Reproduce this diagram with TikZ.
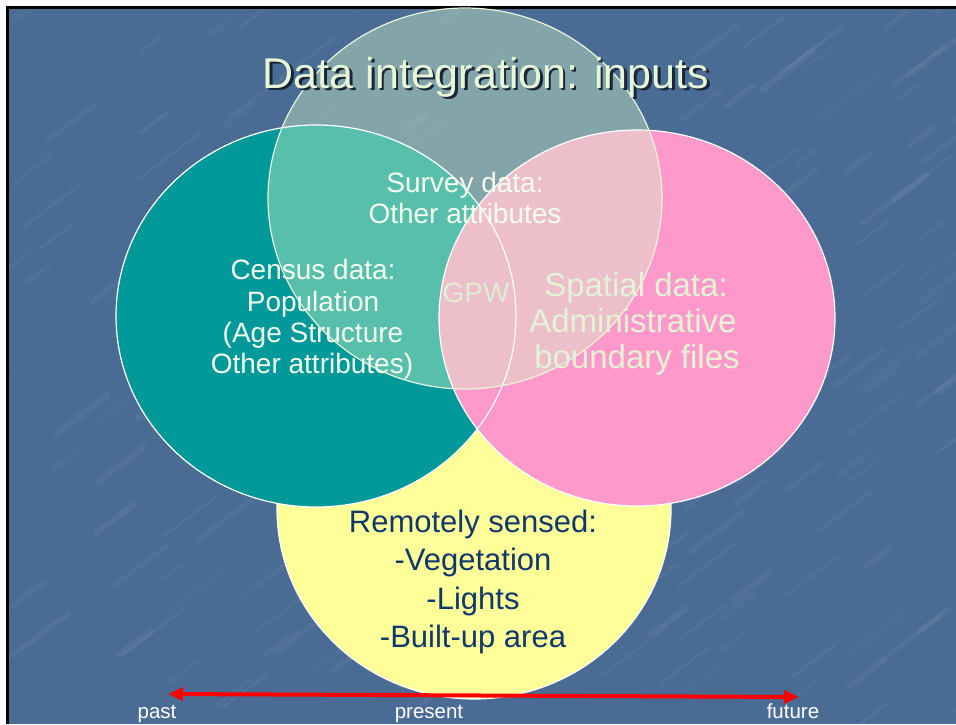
\documentclass[tikz,border=0pt]{standalone}
\usepackage{fontspec}
\setmainfont{Liberation Sans}
\usetikzlibrary{arrows.meta}
\definecolor{bgblue}{RGB}{74,108,148}
\definecolor{tealc}{RGB}{0,153,153}
\definecolor{pinkc}{RGB}{255,153,204}
\definecolor{yellowc}{RGB}{255,255,153}
\definecolor{veil}{RGB}{210,245,200}
\definecolor{titlecol}{RGB}{230,247,217}
\definecolor{shadowcol}{RGB}{26,38,56}
\definecolor{navy}{RGB}{16,56,108}
\definecolor{paletext}{RGB}{244,255,240}
\definecolor{spatialcol}{RGB}{228,243,214}
\definecolor{gpwcol}{RGB}{224,236,212}
\newcommand{\shadowtitle}[1]{\makebox[0pt][l]{\hspace*{2.5pt}\raisebox{-2.5pt}{\textcolor{shadowcol}{#1}}}\textcolor{titlecol}{#1}}
\begin{document}
\begin{tikzpicture}[x=1pt,y=-1pt,
  txt/.style={inner sep=0pt, anchor=base},
  ttl/.style={txt, font=\fontsize{43}{50}\selectfont},
  mid/.style={txt, font=\fontsize{28}{34}\selectfont},
  big/.style={txt, font=\fontsize{33}{38}\selectfont},
  rsx/.style={txt, text=navy, font=\fontsize{31}{38}\selectfont},
  lab/.style={txt, text=white, font=\fontsize{20.5}{24}\selectfont},
  rim/.style={draw=white, line width=1.2pt},
  streak/.style={draw=white, line cap=round},
  timeline/.style={draw=red, line width=4pt,
    {Triangle[length=15pt,width=13pt]}-{Triangle[length=15pt,width=13pt]}}
]
\useasboundingbox (0,0) rectangle (956,724);
\fill[white] (0,0) rectangle (956,724);
\fill[black] (6,6) rectangle (956,724);
\fill[bgblue] (9,9) rectangle (956,724);

% faint marble texture of the background
\begin{scope}
\clip (9,9) rectangle (956,724);
\pgfmathsetseed{4711}
\foreach \k in {1,...,200}{
  \pgfmathsetmacro{\sx}{rnd*960}
  \pgfmathsetmacro{\sy}{rnd*730}
  \pgfmathsetmacro{\sl}{20+rnd*60}
  \pgfmathsetmacro{\sw}{2+rnd*5}
  \pgfmathsetmacro{\so}{0.015+rnd*0.035}
  \draw[streak, line width=\sw pt, draw opacity=\so]
    (\sx,\sy) -- ++(\sl*0.8, -\sl*0.6);
}
\end{scope}

% circles
\fill[yellowc] (474,509) ellipse [x radius=197pt, y radius=190pt];
\draw[rim] (474,509) ellipse [x radius=197pt, y radius=190pt];
\fill[tealc] (316,316) ellipse [x radius=200pt, y radius=191pt];
\fill[pinkc] (637,318) ellipse [x radius=198pt, y radius=188pt];
\fill[veil, fill opacity=0.42] (465,198.5) ellipse [x radius=197pt, y radius=190.5pt];
\draw[rim] (316,316) ellipse [x radius=200pt, y radius=191pt];
\draw[rim] (637,318) ellipse [x radius=198pt, y radius=188pt];
\draw[draw=titlecol, line width=1.2pt] (465,198.5) ellipse [x radius=197pt, y radius=190.5pt];

% title
\node[ttl] (title) at (486,88) {\shadowtitle{Data integration: inputs}};

% survey
\node[mid, text=paletext] (sv1) at (465,192) {Survey data:};
\node[mid, text=paletext] (sv2) at (465,223) {Other attributes};

% census
\node[mid, text=paletext] (cs1) at (313,279) {Census data:};
\node[mid, text=paletext] (cs2) at (313,311) {Population};
\node[mid, text=paletext] (cs3) at (313,342) {(Age Structure};
\node[mid, text=paletext] (cs4) at (312,373) {Other attributes)};

% spatial
\node[big, text=spatialcol] (sp1) at (636,296) {Spatial data:};
\node[big, text=spatialcol] (sp2) at (633,332) {Administrative};
\node[big, text=spatialcol] (sp3) at (637,368) {boundary files};

% GPW
\node[mid, text=gpwcol] (gpw) at (476,302) {GPW};

% remotely sensed
\node[rsx] (rs1) at (473,532) {Remotely sensed:};
\node[rsx] (rs2) at (473,570) {-Vegetation};
\node[rsx] (rs3) at (473,609) {-Lights};
\node[rsx] (rs4) at (473,647) {-Built-up area};

% timeline
\coordinate (pastend) at (168,694);
\coordinate (futureend) at (799,697);
\draw[timeline] (pastend) -- (futureend);
\node[lab] (past) at (157,718) {past};
\node[lab] (present) at (429,718) {present};
\node[lab] (future) at (793,718) {future};
\end{tikzpicture}
\end{document}
